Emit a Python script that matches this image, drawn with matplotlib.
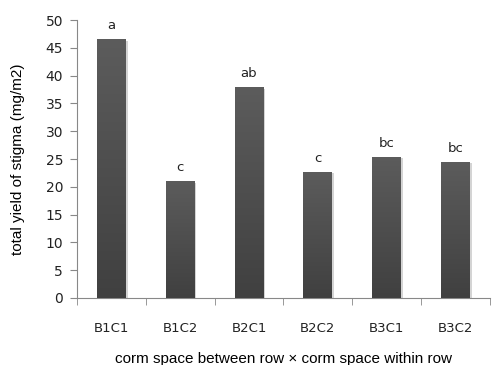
import matplotlib
matplotlib.use("Agg")
import matplotlib.pyplot as plt
import numpy as np

categories = ["B1C1", "B1C2", "B2C1", "B2C2", "B3C1", "B3C2"]
values = [46.6, 21.0, 37.9, 22.7, 25.4, 24.5]
letters = ["a", "c", "ab", "c", "bc", "bc"]

fig = plt.figure(figsize=(4.93, 3.65), dpi=100)
ax = fig.add_axes([0.156, 0.1836, 0.838, 0.7614])

x = np.arange(len(categories))
width = 0.42
grad = np.linspace(0, 1, 256).reshape(-1, 1)
cmap = matplotlib.colors.LinearSegmentedColormap.from_list("g", ["#404040", "#5c5c5c"])
for xi, v in zip(x, values):
    ax.bar(xi + 0.025, v, width, bottom=-0.3, color="#d4d4d4", zorder=1, linewidth=0)
    b = ax.bar(xi, v, width, color="#505050", zorder=2, linewidth=0)[0]
    im = ax.imshow(grad, extent=[xi - width / 2, xi + width / 2, 0, v], origin="lower",
                   cmap=cmap, aspect="auto", zorder=3)
    im.set_clip_path(b)

for xi, v, t in zip(x, values, letters):
    ax.text(xi, v + 1.3, t, ha="center", va="bottom", fontsize=9.5, family="DejaVu Sans", color="#222222")

ax.set_xlim(-0.5, len(categories) - 0.5)
ax.set_ylim(0, 50)
ax.set_yticks(range(0, 51, 5))
ax.set_xticks(x)
ax.set_xticklabels(categories)
ax.set_xticks(np.arange(-0.5, len(categories), 1), minor=True)
ax.tick_params(axis="x", which="major", length=0, pad=17, labelsize=9.5, colors="#222222")
ax.tick_params(axis="x", which="minor", length=5, color="#888888")
ax.tick_params(axis="y", length=5, color="#888888", labelsize=10, labelcolor="#222222", pad=5)
for s in ["top", "right"]:
    ax.spines[s].set_visible(False)
for s in ["left", "bottom"]:
    ax.spines[s].set_color("#888888")
ax.set_ylabel("total yield of stigma (mg/m2)", fontsize=11, family="Liberation Sans")
ax.yaxis.set_label_coords(-0.125, 0.5)
ax.set_xlabel("corm space between row × corm space within row", fontsize=11,
              family="Liberation Sans")
ax.xaxis.set_label_coords(0.5, -0.195)

fig.savefig("out.png", dpi=100)
